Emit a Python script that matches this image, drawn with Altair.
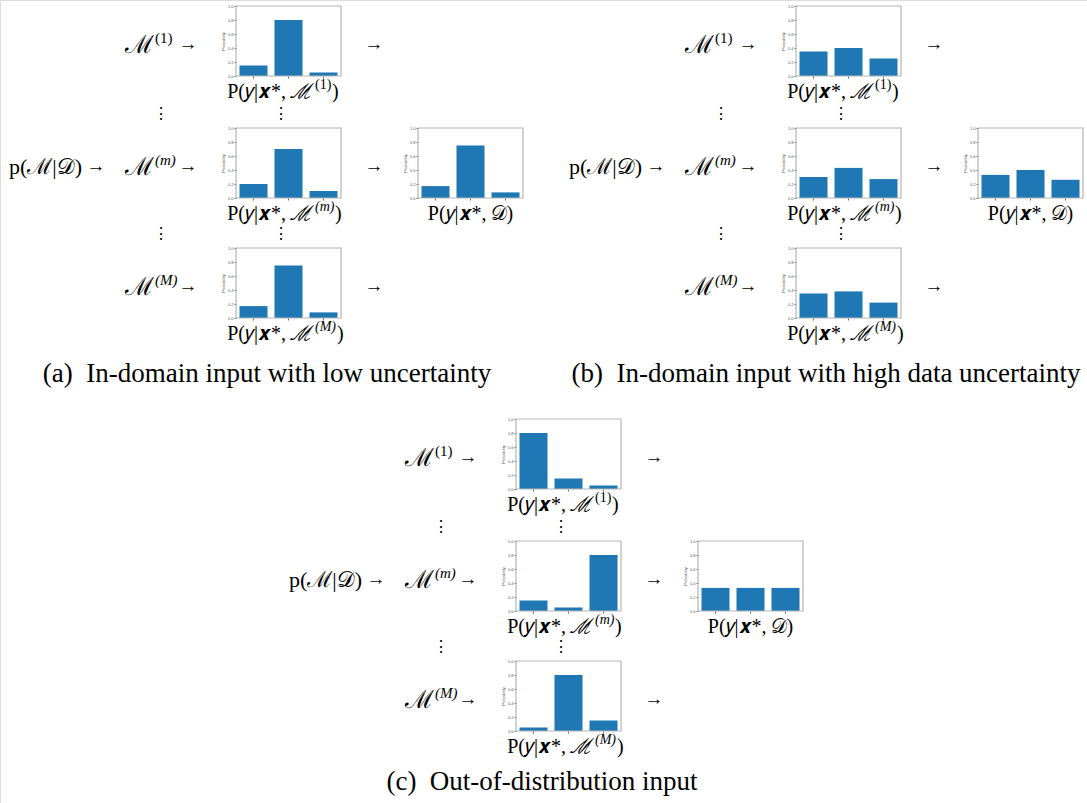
import altair as alt
import pandas as pd

W, H = 1087, 803

classes = ["0", "1", "2"]

# (a) in-domain input, low uncertainty
a_model_1 = [0.15, 0.80, 0.05]
a_model_m = [0.20, 0.70, 0.10]
a_model_M = [0.17, 0.75, 0.08]
a_ensemble = [0.17, 0.75, 0.08]

# (b) in-domain input, high data uncertainty
b_model_1 = [0.35, 0.40, 0.25]
b_model_m = [0.30, 0.43, 0.27]
b_model_M = [0.35, 0.38, 0.22]
b_ensemble = [0.33, 0.40, 0.26]

# (c) out-of-distribution input
c_model_1 = [0.80, 0.15, 0.05]
c_model_m = [0.15, 0.05, 0.80]
c_model_M = [0.05, 0.80, 0.15]
c_ensemble = [0.33, 0.33, 0.33]

model_symbol = "ℳ"
model_sups = ["(1)", "(m)", "(M)"]
sup_italic = [False, True, True]
sup_width = [16, 19, 21]          # approximate advance of each superscript run
cond_head = "P(𝑦|𝒙*,\u2009ℳ"
ensemble_label = "P(𝑦|𝒙*,\u2009𝒟)"
posterior_label = "p(ℳ|𝒟)"
captions = [
    "(a)\u00a0 In-domain input with low uncertainty",
    "(b)\u00a0 In-domain input with high data uncertainty",
    "(c)\u00a0 Out-of-distribution input",
]

panels = [
    (a_model_1, a_model_m, a_model_M, a_ensemble),
    (b_model_1, b_model_m, b_model_M, b_ensemble),
    (c_model_1, c_model_m, c_model_M, c_ensemble),
]

# panel placement (shift of each panel) and caption anchors
panel_shift = [(0, 0), (560, 0), (280, 413)]
caption_pos = [(267, 374), (826, 374), (542, 782)]

# template geometry for one panel
row_top = [6, 128, 248]
model_x0 = 236
ens_x0 = 418
ens_row = 1
cw, ch = 105, 70

FONT = "Liberation Serif"


def mini_chart(values, x0, y0):
    df = pd.DataFrame({"cls": classes, "p": values})
    bars = alt.Chart(df).mark_bar(color="#1f77b4").encode(
        x=alt.X(
            "cls:N",
            scale=alt.Scale(domain=classes, range=[x0, x0 + cw],
                            paddingInner=0.2, paddingOuter=0.1),
            axis=alt.Axis(orient="bottom", offset=(y0 + ch) - H, labels=False,
                          ticks=True, tickSize=2, tickColor="#666", domain=False,
                          grid=False, title=None),
        ),
        y=alt.Y(
            "p:Q",
            scale=alt.Scale(domain=[0, 1], range=[y0 + ch, y0]),
            axis=alt.Axis(orient="left", offset=-x0,
                          values=[0, 0.2, 0.4, 0.6, 0.8, 1.0], format=".1f",
                          labelFontSize=4, labelColor="#555", labelPadding=1,
                          tickSize=2, tickColor="#666", domain=False, grid=False,
                          title="Probability", titleFontSize=4,
                          titleFontWeight="normal", titleColor="#555",
                          titlePadding=2),
        ),
    )
    frame = alt.Chart(df.iloc[:1]).mark_rect(
        filled=False, stroke="#b5b5b5", strokeWidth=1.2
    ).encode(
        x=alt.value(x0), x2=alt.value(x0 + cw),
        y=alt.value(y0), y2=alt.value(y0 + ch),
    )
    return [bars, frame]


layers = []
txt = {"right": [], "center": [], "left": [], "left_it": []}

for (dx, dy), vals in zip(panel_shift, panels):
    models, ens = vals[:3], vals[3]
    for r, (v, top) in enumerate(zip(models, row_top)):
        layers += mini_chart(v, model_x0 + dx, top + dy)
        sup_key = "left_it" if sup_italic[r] else "left"
        # model symbol with its superscript, then the arrow into the chart
        yc = top + 39 + dy
        txt["right"].append({"t": model_symbol, "x": 154 + dx, "y": yc, "s": 25})
        txt[sup_key].append({"t": model_sups[r], "x": 155 + dx, "y": yc - 7, "s": 15})
        txt["center"].append({"t": "→", "x": 188 + dx, "y": yc - 1, "s": 19})
        txt["center"].append({"t": "→", "x": 374 + dx, "y": yc - 1, "s": 19})
        # conditional-distribution label under the chart
        ly = top + ch + 16 + dy
        xa = model_x0 + 78 + dx
        txt["right"].append({"t": cond_head, "x": xa, "y": ly, "s": 20})
        txt[sup_key].append({"t": model_sups[r], "x": xa + 1, "y": ly - 7, "s": 14})
        txt["left"].append({"t": ")", "x": xa + 2 + sup_width[r], "y": ly, "s": 20})
    layers += mini_chart(ens, ens_x0 + dx, row_top[ens_row] + dy)
    txt["center"].append({"t": ensemble_label, "x": ens_x0 + cw / 2 + dx,
                          "y": row_top[ens_row] + ch + 16 + dy, "s": 20})
    txt["right"].append({"t": posterior_label, "x": 82 + dx,
                         "y": row_top[ens_row] + 39 + dy, "s": 22})
    txt["center"].append({"t": "→", "x": 96 + dx,
                          "y": row_top[ens_row] + 38 + dy, "s": 19})
    for yd in (114, 234):
        for xd in (161, 281):
            txt["center"].append({"t": "⋮", "x": xd + dx, "y": yd + dy, "s": 16})


def text_layer(rows, align, italic=False):
    df = pd.DataFrame(rows)
    style = {"fontStyle": "italic"} if italic else {}
    return alt.Chart(df).mark_text(
        align=align, baseline="middle", font=FONT, color="black", **style
    ).encode(
        x=alt.X("x:Q", scale=None),
        y=alt.Y("y:Q", scale=None),
        text="t:N",
        size=alt.Size("s:Q", scale=None, legend=None),
    )


layers.append(text_layer(txt["right"], "right"))
layers.append(text_layer(txt["center"], "center"))
layers.append(text_layer(txt["left"], "left"))
layers.append(text_layer(txt["left_it"], "left", italic=True))
cap_rows = [{"t": c, "x": x, "y": y, "s": 27} for c, (x, y) in zip(captions, caption_pos)]
layers.append(text_layer(cap_rows, "center"))

chart = (
    alt.layer(*layers)
    .resolve_scale(x="independent", y="independent", size="independent")
    .resolve_axis(x="independent", y="independent")
    .properties(width=W, height=H, padding=0, autosize=alt.AutoSizeParams(type="none"))
    .configure_view(stroke=None)
    .configure(background="white")
)

chart.save("out.html", embed_options={"renderer": "svg", "actions": False})
